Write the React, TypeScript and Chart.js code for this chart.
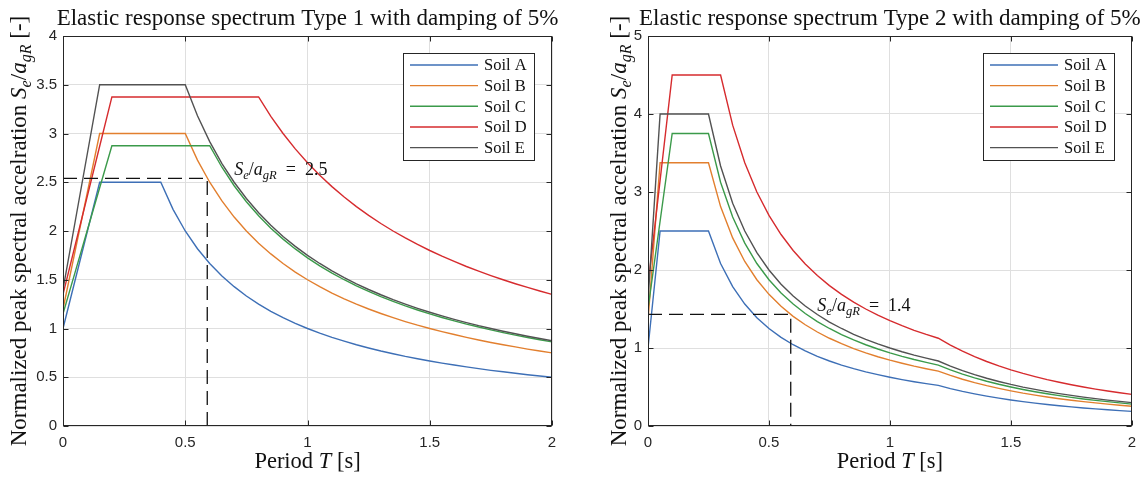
import React, { useEffect, useRef } from "react";
import { Chart, registerables } from "chart.js";

Chart.register(...registerables);

// ---------- DATA ----------
const periods = [
  0, 0.05, 0.1, 0.15, 0.2, 0.25, 0.3, 0.35, 0.4, 0.45, 0.5, 0.55, 0.6, 0.65, 0.7, 0.75, 0.8, 0.85, 0.9, 0.95,
  1.0, 1.05, 1.1, 1.15, 1.2, 1.25, 1.3, 1.35, 1.4, 1.45, 1.5, 1.55, 1.6, 1.65, 1.7, 1.75, 1.8, 1.85, 1.9, 1.95, 2.0,
];

const soilLabels = ["Soil A", "Soil B", "Soil C", "Soil D", "Soil E"];

// Type 1 spectrum
const type1SoilA = [1.0, 1.5, 2.0, 2.5, 2.5, 2.5, 2.5, 2.5, 2.5, 2.222, 2.0, 1.818, 1.667, 1.538, 1.429, 1.333, 1.25, 1.176, 1.111, 1.053, 1.0, 0.952, 0.909, 0.87, 0.833, 0.8, 0.769, 0.741, 0.714, 0.69, 0.667, 0.645, 0.625, 0.606, 0.588, 0.571, 0.556, 0.541, 0.526, 0.513, 0.5];
const type1SoilB = [1.2, 1.8, 2.4, 3.0, 3.0, 3.0, 3.0, 3.0, 3.0, 3.0, 3.0, 2.727, 2.5, 2.308, 2.143, 2.0, 1.875, 1.765, 1.667, 1.579, 1.5, 1.429, 1.364, 1.304, 1.25, 1.2, 1.154, 1.111, 1.071, 1.034, 1.0, 0.968, 0.938, 0.909, 0.882, 0.857, 0.833, 0.811, 0.789, 0.769, 0.75];
const type1SoilC = [1.15, 1.581, 2.013, 2.444, 2.875, 2.875, 2.875, 2.875, 2.875, 2.875, 2.875, 2.875, 2.875, 2.654, 2.464, 2.3, 2.156, 2.029, 1.917, 1.816, 1.725, 1.643, 1.568, 1.5, 1.438, 1.38, 1.327, 1.278, 1.232, 1.19, 1.15, 1.113, 1.078, 1.045, 1.015, 0.986, 0.958, 0.932, 0.908, 0.885, 0.863];
const type1SoilD = [1.35, 1.856, 2.363, 2.869, 3.375, 3.375, 3.375, 3.375, 3.375, 3.375, 3.375, 3.375, 3.375, 3.375, 3.375, 3.375, 3.375, 3.176, 3.0, 2.842, 2.7, 2.571, 2.455, 2.348, 2.25, 2.16, 2.077, 2.0, 1.929, 1.862, 1.8, 1.742, 1.688, 1.636, 1.588, 1.543, 1.5, 1.459, 1.421, 1.385, 1.35];
const type1SoilE = [1.4, 2.1, 2.8, 3.5, 3.5, 3.5, 3.5, 3.5, 3.5, 3.5, 3.5, 3.182, 2.917, 2.692, 2.5, 2.333, 2.188, 2.059, 1.944, 1.842, 1.75, 1.667, 1.591, 1.522, 1.458, 1.4, 1.346, 1.296, 1.25, 1.207, 1.167, 1.129, 1.094, 1.061, 1.029, 1.0, 0.972, 0.946, 0.921, 0.897, 0.875];

// Type 2 spectrum
const type2SoilA = [1.0, 2.5, 2.5, 2.5, 2.5, 2.5, 2.083, 1.786, 1.563, 1.389, 1.25, 1.136, 1.042, 0.962, 0.893, 0.833, 0.781, 0.735, 0.694, 0.658, 0.625, 0.595, 0.568, 0.543, 0.521, 0.48, 0.444, 0.412, 0.383, 0.357, 0.333, 0.312, 0.293, 0.275, 0.26, 0.245, 0.231, 0.219, 0.208, 0.197, 0.188];
const type2SoilB = [1.35, 3.375, 3.375, 3.375, 3.375, 3.375, 2.813, 2.411, 2.109, 1.875, 1.688, 1.534, 1.406, 1.298, 1.205, 1.125, 1.055, 0.993, 0.938, 0.888, 0.844, 0.804, 0.767, 0.734, 0.703, 0.648, 0.599, 0.556, 0.517, 0.482, 0.45, 0.421, 0.396, 0.372, 0.35, 0.331, 0.313, 0.296, 0.28, 0.266, 0.253];
const type2SoilC = [1.5, 2.625, 3.75, 3.75, 3.75, 3.75, 3.125, 2.679, 2.344, 2.083, 1.875, 1.705, 1.563, 1.442, 1.339, 1.25, 1.172, 1.103, 1.042, 0.987, 0.938, 0.893, 0.852, 0.815, 0.781, 0.72, 0.666, 0.617, 0.574, 0.535, 0.5, 0.468, 0.439, 0.413, 0.389, 0.367, 0.347, 0.329, 0.312, 0.296, 0.281];
const type2SoilD = [1.8, 3.15, 4.5, 4.5, 4.5, 4.5, 4.5, 3.857, 3.375, 3.0, 2.7, 2.455, 2.25, 2.077, 1.929, 1.8, 1.688, 1.588, 1.5, 1.421, 1.35, 1.286, 1.227, 1.174, 1.125, 1.037, 0.959, 0.889, 0.827, 0.77, 0.72, 0.674, 0.633, 0.595, 0.561, 0.529, 0.5, 0.473, 0.449, 0.426, 0.405];
const type2SoilE = [1.6, 4.0, 4.0, 4.0, 4.0, 4.0, 3.333, 2.857, 2.5, 2.222, 2.0, 1.818, 1.667, 1.538, 1.429, 1.333, 1.25, 1.176, 1.111, 1.053, 1.0, 0.952, 0.909, 0.87, 0.833, 0.768, 0.71, 0.658, 0.612, 0.571, 0.533, 0.499, 0.469, 0.441, 0.415, 0.392, 0.37, 0.351, 0.332, 0.316, 0.3];

// Reading guides [T, Se/agR] and annotation
const type1Guide = [0.59, 2.54];
const type2Guide = [0.59, 1.43];
const type1Note = [0.7, 2.57];
const type2Note = [0.7, 1.47];
const type1NoteValue = "2.5";
const type2NoteValue = "1.4";

const xTicksMax = 2;
const type1YMax = 4;
const type1YStep = 0.5;
const type2YMax = 5;
const type2YStep = 1;

// ---------- STYLE ----------
const soilColors = ["#3d6fb6", "#e27f2e", "#3b9a4a", "#d62b2e", "#525252"];
const SERIF = '"Liberation Serif", "Times New Roman", serif';
const SANS = '"Liberation Sans", Arial, sans-serif';
const AXIS_COLOR = "#262626";

type Run = { t: string; it?: boolean; sub?: boolean };

function drawRuns(ctx: CanvasRenderingContext2D, runs: Run[], x: number, y: number, size: number, align: "left" | "center") {
  const fontFor = (r: Run) => `${r.it ? "italic " : ""}${r.sub ? size * 0.7 : size}px ${SERIF}`;
  let total = 0;
  const widths = runs.map((r) => {
    ctx.font = fontFor(r);
    const w = ctx.measureText(r.t).width;
    total += w;
    return w;
  });
  let cx = align === "center" ? x - total / 2 : x;
  ctx.textAlign = "left";
  ctx.textBaseline = "alphabetic";
  runs.forEach((r, i) => {
    ctx.font = fontFor(r);
    ctx.fillText(r.t, cx, y + (r.sub ? size * 0.22 : 0));
    cx += widths[i];
  });
}

const decoPlugin = {
  id: "deco",
  afterDraw(chart: any, _args: any, opts: any) {
    const ctx: CanvasRenderingContext2D = chart.ctx;
    const ca = chart.chartArea;
    const xs = chart.scales.x;
    const ys = chart.scales.y;
    ctx.save();

    // box
    ctx.strokeStyle = AXIS_COLOR;
    ctx.lineWidth = 1;
    const L = Math.round(ca.left) + 0.5;
    const R = Math.round(ca.right) - 0.5;
    const T = Math.round(ca.top) + 0.5;
    const B = Math.round(ca.bottom) - 0.5;
    ctx.strokeRect(L, T, R - L, B - T);

    // inward ticks on all four sides
    const tl = 5;
    ctx.beginPath();
    xs.ticks.forEach((t: any) => {
      const px = Math.round(xs.getPixelForValue(t.value)) + 0.5;
      ctx.moveTo(px, B);
      ctx.lineTo(px, B - tl);
      ctx.moveTo(px, T);
      ctx.lineTo(px, T + tl);
    });
    ys.ticks.forEach((t: any) => {
      const py = Math.round(ys.getPixelForValue(t.value)) + 0.5;
      ctx.moveTo(L, py);
      ctx.lineTo(L + tl, py);
      ctx.moveTo(R, py);
      ctx.lineTo(R - tl, py);
    });
    ctx.stroke();

    // legend
    const lw = 131;
    const lh = 107;
    const lx = Math.round(ca.right) - 18 - lw;
    const ly = Math.round(ca.top) + 17;
    ctx.fillStyle = "#ffffff";
    ctx.fillRect(lx, ly, lw, lh);
    ctx.strokeStyle = AXIS_COLOR;
    ctx.lineWidth = 1;
    ctx.strokeRect(lx + 0.5, ly + 0.5, lw, lh);
    const ds = chart.data.datasets;
    for (let i = 0; i < soilLabels.length; i++) {
      const yy = ly + 12 + i * 20.65;
      ctx.strokeStyle = ds[i].borderColor;
      ctx.lineWidth = 1.4;
      ctx.beginPath();
      ctx.moveTo(lx + 7, yy);
      ctx.lineTo(lx + 75, yy);
      ctx.stroke();
      ctx.fillStyle = "#111";
      ctx.font = `16.5px ${SERIF}`;
      ctx.textAlign = "left";
      ctx.textBaseline = "middle";
      ctx.fillText(ds[i].label, lx + 81, yy + 1);
    }

    // title
    ctx.fillStyle = "#111";
    const cx = (ca.left + ca.right) / 2;
    drawRuns(ctx, [{ t: opts.title }], cx, 25, 23, "center");

    // x label
    drawRuns(ctx, [{ t: "Period " }, { t: "T", it: true }, { t: " [s]" }], cx, 468, 22.5, "center");

    // y label
    ctx.save();
    ctx.translate(opts.yLabelX, (ca.top + ca.bottom) / 2);
    ctx.rotate(-Math.PI / 2);
    drawRuns(
      ctx,
      [
        { t: "Normalized peak spectral accelration " },
        { t: "S", it: true },
        { t: "e", it: true, sub: true },
        { t: "/" },
        { t: "a", it: true },
        { t: "gR", it: true, sub: true },
        { t: " [-]" },
      ],
      0,
      0,
      23,
      "center"
    );
    ctx.restore();

    // annotation
    const ax = xs.getPixelForValue(opts.note[0]);
    const ay = ys.getPixelForValue(opts.note[1]);
    drawRuns(
      ctx,
      [
        { t: "S", it: true },
        { t: "e", it: true, sub: true },
        { t: "/" },
        { t: "a", it: true },
        { t: "gR", it: true, sub: true },
        { t: "  =  " + opts.noteValue },
      ],
      ax,
      ay,
      18,
      "left"
    );

    ctx.restore();
  },
};

function buildConfig(
  series: number[][],
  guide: number[],
  yMax: number,
  yStep: number,
  yAxisWidth: number,
  rightPad: number,
  title: string,
  yLabelX: number,
  note: number[],
  noteValue: string
): any {
  const datasets: any[] = series.map((vals, i) => ({
    label: soilLabels[i],
    data: periods.map((t, j) => ({ x: t, y: vals[j] })),
    borderColor: soilColors[i],
    backgroundColor: soilColors[i],
    borderWidth: 1.4,
    pointRadius: 0,
    tension: 0,
    fill: false,
    order: 5 - i,
  }));
  datasets.push({
    label: "guide",
    data: [
      { x: 0, y: guide[1] },
      { x: guide[0], y: guide[1] },
      { x: guide[0], y: 0 },
    ],
    borderColor: "#111111",
    borderWidth: 1.3,
    borderDash: [14, 7],
    pointRadius: 0,
    tension: 0,
    fill: false,
    order: 0,
  });
  return {
    type: "line",
    data: { datasets },
    plugins: [decoPlugin],
    options: {
      responsive: false,
      animation: false,
      devicePixelRatio: 1,
      layout: { padding: { left: 0, top: 36, right: rightPad, bottom: 0 } },
      plugins: {
        legend: { display: false },
        tooltip: { enabled: false },
        title: { display: false },
        deco: { title, yLabelX, note, noteValue },
      },
      scales: {
        x: {
          type: "linear",
          min: 0,
          max: xTicksMax,
          afterFit: (s: any) => {
            s.height = 51;
          },
          grid: { color: "#dfdfdf", lineWidth: 1, drawTicks: false },
          border: { display: false },
          ticks: {
            stepSize: 0.5,
            padding: 8,
            maxRotation: 0,
            autoSkip: false,
            color: AXIS_COLOR,
            font: { family: SANS, size: 15 },
            callback: (v: any) => String(v),
          },
        },
        y: {
          type: "linear",
          min: 0,
          max: yMax,
          afterFit: (s: any) => {
            s.width = yAxisWidth;
          },
          grid: { color: "#dfdfdf", lineWidth: 1, drawTicks: false },
          border: { display: false },
          ticks: {
            stepSize: yStep,
            padding: 6,
            autoSkip: false,
            color: AXIS_COLOR,
            font: { family: SANS, size: 15 },
            callback: (v: any) => String(v),
          },
        },
      },
    },
  };
}

export default function App() {
  const leftRef = useRef<HTMLCanvasElement | null>(null);
  const rightRef = useRef<HTMLCanvasElement | null>(null);

  useEffect(() => {
    const c1 = new Chart(
      leftRef.current as HTMLCanvasElement,
      buildConfig(
        [type1SoilA, type1SoilB, type1SoilC, type1SoilD, type1SoilE],
        type1Guide,
        type1YMax,
        type1YStep,
        63,
        20,
        "Elastic response spectrum Type 1 with damping of 5%",
        26,
        type1Note,
        type1NoteValue
      )
    );
    const c2 = new Chart(
      rightRef.current as HTMLCanvasElement,
      buildConfig(
        [type2SoilA, type2SoilB, type2SoilC, type2SoilD, type2SoilE],
        type2Guide,
        type2YMax,
        type2YStep,
        76,
        8,
        "Elastic response spectrum Type 2 with damping of 5%",
        54,
        type2Note,
        type2NoteValue
      )
    );
    return () => {
      c1.destroy();
      c2.destroy();
    };
  }, []);

  return (
    <div style={{ position: "absolute", left: 0, top: 0, width: 1144, height: 477, background: "#fff" }}>
      <canvas ref={leftRef} width={572} height={477} style={{ position: "absolute", left: 0, top: 0, width: 572, height: 477 }} />
      <canvas ref={rightRef} width={572} height={477} style={{ position: "absolute", left: 572, top: 0, width: 572, height: 477 }} />
    </div>
  );
}
